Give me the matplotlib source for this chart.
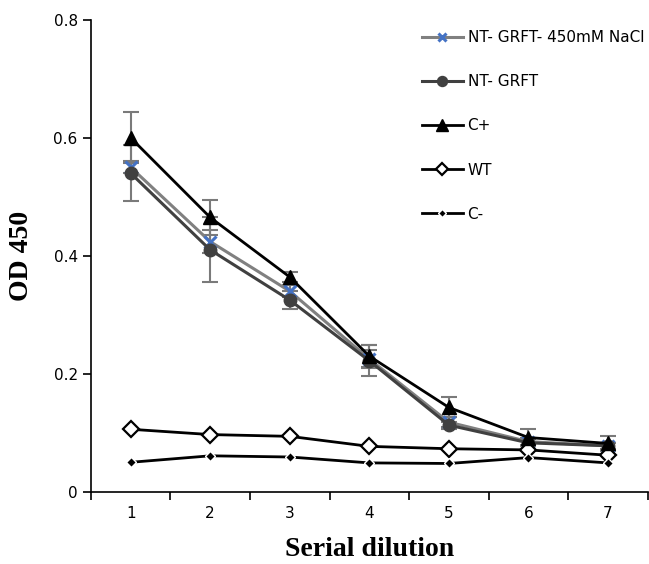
import numpy as np
import matplotlib.pyplot as plt

dilution = [1, 2, 3, 4, 5, 6, 7]

nacl = [0.550, 0.424, 0.340, 0.225, 0.118, 0.085, 0.078]
nacl_err = [0.010, 0.020, 0.010, 0.015, 0.008, 0.006, 0.005]
ntgrft = [0.540, 0.410, 0.325, 0.222, 0.113, 0.083, 0.078]
ntgrft_err = [0.047, 0.055, 0.015, 0.026, 0.006, 0.006, 0.005]
cpos = [0.600, 0.465, 0.364, 0.230, 0.143, 0.092, 0.082]
cpos_err = [0.043, 0.030, 0.008, 0.018, 0.017, 0.015, 0.013]
wt = [0.106, 0.097, 0.094, 0.077, 0.073, 0.071, 0.062]
cneg = [0.050, 0.061, 0.059, 0.049, 0.048, 0.058, 0.049]

labels = ["NT- GRFT- 450mM NaCl", "NT- GRFT", "C+", "WT", "C-"]

fig = plt.figure(figsize=(6.49, 5.64), dpi=100)
ax = fig.add_axes([0.140, 0.128, 0.858, 0.837])

ecol = "#7a7a7a"
ax.errorbar(dilution, ntgrft, yerr=ntgrft_err, fmt="none", ecolor=ecol, capsize=6, elinewidth=1.5, capthick=1.5)
ax.errorbar(dilution, nacl, yerr=nacl_err, fmt="none", ecolor=ecol, capsize=6, elinewidth=1.5, capthick=1.5)
ax.errorbar(dilution, cpos, yerr=cpos_err, fmt="none", ecolor=ecol, capsize=6, elinewidth=1.5, capthick=1.5)

ax.plot(dilution, nacl, color="#808080", lw=2.2, marker="x", ms=8, mec="#4472c4", mew=2.2, label=labels[0], zorder=3)
ax.plot(dilution, ntgrft, color="#404040", lw=2.2, marker="o", ms=9, mfc="#404040", mec="#404040", label=labels[1], zorder=3)
ax.plot(dilution, cpos, color="black", lw=2.0, marker="^", ms=10, mfc="black", label=labels[2], zorder=4)
ax.plot(dilution, wt, color="black", lw=2.0, marker="D", ms=8, mfc="white", mec="black", mew=1.6, label=labels[3], zorder=3)
ax.plot(dilution, cneg, color="black", lw=2.0, marker="D", ms=5, mfc="black", mec="white", mew=1.0, label=labels[4], zorder=3)

ax.set_xlim(0.5, 7.5)
ax.set_ylim(0, 0.8)
ax.set_xticks(dilution)
ax.set_xticks(np.arange(0.5, 8.0, 1.0), minor=True)
ax.tick_params(axis="x", which="major", length=0, labelsize=11, pad=10)
ax.tick_params(axis="x", which="minor", length=6, width=1.2, direction="out")
ax.set_yticks([0, 0.2, 0.4, 0.6, 0.8])
ax.set_yticklabels(["0", "0.2", "0.4", "0.6", "0.8"])
ax.tick_params(axis="y", length=6, width=1.2, labelsize=11)

for s in ["top", "right"]:
    ax.spines[s].set_visible(False)
for s in ["left", "bottom"]:
    ax.spines[s].set_linewidth(1.2)

ax.set_xlabel("Serial dilution", family="Liberation Serif", fontweight="bold", fontsize=20, labelpad=12)
ax.set_ylabel("OD 450", family="Liberation Serif", fontweight="bold", fontsize=20, labelpad=14)

ax.legend(loc="upper left", bbox_to_anchor=(0.575, 1.0), frameon=False, fontsize=11,
          labelspacing=1.9, handlelength=2.7, handletextpad=0.3, borderaxespad=0.3,
          markerscale=0.8)

fig.savefig("out.png", dpi=100)
